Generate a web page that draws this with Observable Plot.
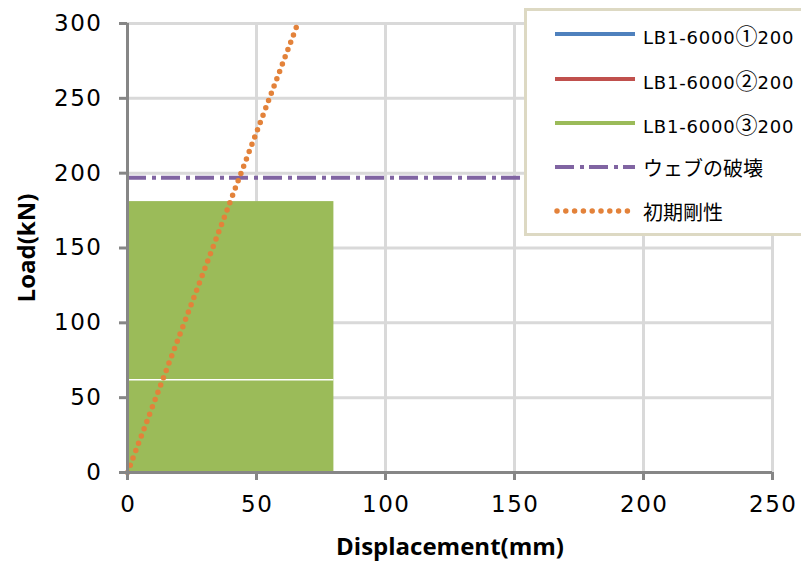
<!DOCTYPE html>
<html>
<head>
<meta charset="utf-8">
<script src="https://cdn.jsdelivr.net/npm/d3@7"></script>
<script src="https://cdn.jsdelivr.net/npm/@observablehq/plot@0.6"></script>
<style>
  html, body { margin: 0; padding: 0; background: #fff; overflow: hidden; }
  #wrap { position: relative; width: 801px; height: 561px; overflow: hidden; }
  #legend {
    position: absolute; left: 524px; top: 8px; width: 300px; height: 228px;
    border: 3px solid #ddd9c3; background: #fff; box-sizing: border-box;
    font-family: "DejaVu Sans", sans-serif; font-size: 18px; color: #000;
  }
  .row { position: absolute; left: 26px; height: 24px; display: flex; align-items: center; white-space: nowrap; }
  .row svg { margin-right: 6px; }
  .lbl { letter-spacing: 0.8px; }
  .circ { font-family: "Noto Sans CJK JP", sans-serif; font-size: 22px; letter-spacing: 0; }
  .jp { font-family: "Noto Sans CJK JP", sans-serif; font-size: 20px; }
</style>
</head>
<body>
<div id="wrap"><div id="chart"></div><div id="legend"></div></div>
<script>
// Axis ranges and tick values
const xTicks = [0, 50, 100, 150, 200, 250];
const yTicks = [0, 50, 100, 150, 200, 250, 300];

// Series names shown in the legend
const seriesNames = ["LB1-6000①200", "LB1-6000②200", "LB1-6000③200", "ウェブの破壊", "初期剛性"];
const seriesColors = ["#4f81bd", "#c0504d", "#9bbb59", "#8064a2", "#e3823a"];

// Cyclic loading record of specimen ③: envelope of the densely traced region (mm, kN)
const loopDispRange = [0, 80];
const loopLoadRange = [0, 181];
const loopGapLoad = [62];

// Web failure load (kN)
const webFailureLoad = [197];

// Initial stiffness line (displacement mm, load kN)
const stiffDisp = [0, 66];
const stiffLoad = [0, 300];

const stiffness = stiffDisp.map((d, i) => ({x: d, y: stiffLoad[i]}));
const loopBox = [{x1: loopDispRange[0], x2: loopDispRange[1], y1: loopLoadRange[0], y2: loopLoadRange[1]}];

const axisGray = "#868686";
const gridGray = "#d9d9d9";

const chart = Plot.plot({
  width: 801,
  height: 561,
  marginLeft: 127,
  marginRight: 29,
  marginTop: 23,
  marginBottom: 89,
  style: {fontFamily: "DejaVu Sans, sans-serif", fontSize: "23px", color: "#000", background: "#fff"},
  x: {domain: [0, 250]},
  y: {domain: [0, 300]},
  marks: [
    Plot.gridX(xTicks, {stroke: gridGray, strokeWidth: 3, strokeOpacity: 1}),
    Plot.gridY(yTicks, {stroke: gridGray, strokeWidth: 3, strokeOpacity: 1}),
    Plot.rect(loopBox, {x1: "x1", x2: "x2", y1: "y1", y2: "y2", fill: seriesColors[2]}),
    Plot.ruleY(loopGapLoad, {x1: loopDispRange[0], x2: loopDispRange[1], stroke: "#fff", strokeWidth: 1.5}),
    Plot.ruleY(webFailureLoad, {stroke: seriesColors[3], strokeWidth: 4, strokeDasharray: "19,6,4,5"}),
    Plot.line(stiffness, {x: "x", y: "y", stroke: seriesColors[4], strokeWidth: 5.5, strokeLinecap: "round", strokeDasharray: "0,7.8"}),
    Plot.ruleX([0], {stroke: axisGray, strokeWidth: 3, y1: 0, y2: 300}),
    Plot.ruleY([0], {stroke: axisGray, strokeWidth: 3, x1: 0, x2: 250}),
    Plot.axisY(yTicks, {tickSize: 8, stroke: axisGray, strokeWidth: 3, tickPadding: 17, fontSize: 23,
      label: "Load(kN)", labelAnchor: "center", labelArrow: "none", labelOffset: 110}),
    Plot.axisX(xTicks, {tickSize: 8, stroke: axisGray, strokeWidth: 3, tickPadding: 15, fontSize: 23,
      label: "Displacement(mm)", labelAnchor: "center", labelArrow: "none", labelOffset: 82})
  ]
});
document.getElementById("chart").appendChild(chart);

// Bold axis titles and widened tick labels
d3.select(chart).selectAll("[aria-label='y-axis label'] text, [aria-label='x-axis label'] text")
  .attr("font-weight", "bold").attr("font-family", "Open Sans, sans-serif").attr("font-size", 24);
d3.select(chart).selectAll("[aria-label='y-axis tick label'] text, [aria-label='x-axis tick label'] text")
  .attr("letter-spacing", "1.5px").attr("font-size", 23);
d3.select(chart).selectAll("[aria-label='x-axis tick label'] text").attr("dx", 0.75);

// Legend
const legend = d3.select("#legend");
const rowTops = [11, 56, 100, 144, 188];
seriesNames.forEach((name, i) => {
  const row = legend.append("div").attr("class", "row").style("top", rowTops[i] + "px");
  const sw = row.append("svg").attr("width", 84).attr("height", 10);
  const ln = sw.append("line").attr("x1", 2).attr("x2", 82).attr("y1", 5).attr("y2", 5)
    .attr("stroke", seriesColors[i]).attr("stroke-width", 4);
  if (i === 3) ln.attr("stroke-dasharray", "19,6,4,5");
  if (i === 4) ln.attr("stroke-width", 5.5).attr("stroke-linecap", "round").attr("stroke-dasharray", "0,8.8").attr("x1", 4);
  const span = row.append("span").attr("class", i >= 3 ? "jp" : "lbl");
  if (i < 3) {
    // circled specimen numbers are set in the CJK face, as full-width glyphs
    name.split(/([①-⑳])/).filter(s => s).forEach(part => {
      span.append("span").attr("class", /[①-⑳]/.test(part) ? "circ" : null).text(part);
    });
  } else {
    span.text(name);
  }
});
</script>
</body>
</html>
